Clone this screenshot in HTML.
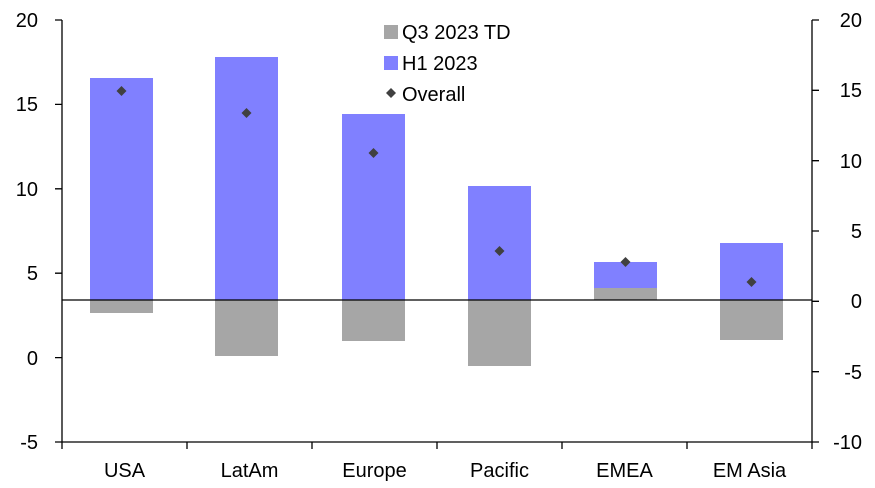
<!DOCTYPE html>
<html><head><style>body{margin:0;background:#fff}svg{display:block}text{font-family:"Liberation Sans",Arial,sans-serif;font-size:20px;fill:#000}</style></head>
<body>
<svg width="875" height="488" viewBox="0 0 875 488">
<g fill="#8080ff">
<rect x="90" y="78" width="63" height="222"/>
<rect x="215" y="57" width="63" height="243"/>
<rect x="342" y="114" width="63" height="186"/>
<rect x="468" y="186" width="63" height="114"/>
<rect x="594" y="262" width="63" height="26"/>
<rect x="720" y="243" width="63" height="57"/>
</g>
<g fill="#a6a6a6">
<rect x="90" y="300" width="63" height="13"/>
<rect x="215" y="300" width="63" height="56"/>
<rect x="342" y="300" width="63" height="41"/>
<rect x="468" y="300" width="63" height="66"/>
<rect x="594" y="288" width="63" height="12"/>
<rect x="720" y="300" width="63" height="40"/>
</g>
<line x1="62" y1="300" x2="812" y2="300" stroke="#000" stroke-width="1.3"/>
<g fill="#404040">
<path d="M121.5 86l5 5-5 5-5-5z"/>
<path d="M246.5 108l5 5-5 5-5-5z"/>
<path d="M373.5 148l5 5-5 5-5-5z"/>
<path d="M499.5 246l5 5-5 5-5-5z"/>
<path d="M625.5 257l5 5-5 5-5-5z"/>
<path d="M751.5 277l5 5-5 5-5-5z"/>
</g>
<g stroke="#000" stroke-width="1.3" fill="none">
<path d="M62 20V442H812V20"/>
<path d="M55 20H62M55 104.4H62M55 188.8H62M55 273.2H62M55 357.6H62M55 442H62"/>
<path d="M812 20H819M812 90.3H819M812 160.7H819M812 231H819M812 301.3H819M812 371.7H819M812 442H819"/>
<path d="M62 442v7M187 442v7M312 442v7M437 442v7M562 442v7M687 442v7M812 442v7"/>
</g>
<g text-anchor="end">
<text x="38" y="27">20</text><text x="38" y="111">15</text><text x="38" y="196">10</text><text x="38" y="280">5</text><text x="38" y="365">0</text><text x="38" y="449">-5</text>
</g>
<g text-anchor="end">
<text x="862" y="27">20</text><text x="862" y="97">15</text><text x="862" y="168">10</text><text x="862" y="238">5</text><text x="862" y="308">0</text><text x="862" y="379">-5</text><text x="862" y="449">-10</text>
</g>
<g text-anchor="middle">
<text x="124.5" y="477">USA</text><text x="249.5" y="477">LatAm</text><text x="374.5" y="477">Europe</text><text x="499.5" y="477">Pacific</text><text x="624.5" y="477">EMEA</text><text x="749.5" y="477">EM Asia</text>
</g>
<rect x="384" y="25" width="14" height="14" fill="#a6a6a6"/>
<text x="402" y="39">Q3 2023 TD</text>
<rect x="384" y="56" width="14" height="14" fill="#8080ff"/>
<text x="402" y="70">H1 2023</text>
<path d="M391 88l5 5-5 5-5-5z" fill="#404040"/>
<text x="402" y="101">Overall</text>
</svg>
</body></html>
